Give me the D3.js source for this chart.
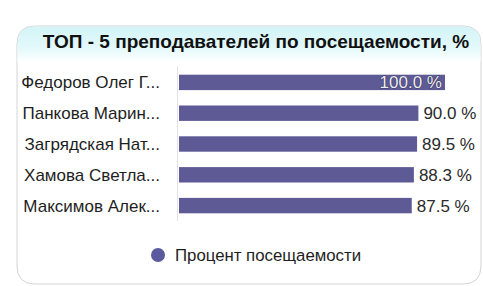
<!DOCTYPE html>
<html>
<head>
<meta charset="utf-8">
<script src="https://cdn.jsdelivr.net/npm/d3@7"></script>
<style>
  body { margin: 0; background: #fff; }
  svg { display: block; }
</style>
</head>
<body>
<script>
var w = 483;
var h = 286;

// data
var teachers = ["Федоров Олег Г...", "Панкова Марин...", "Загрядская Нат...", "Хамова Светла...", "Максимов Алек..."];
var attendance = [100.0, 90.0, 89.5, 88.3, 87.5];
var titleText = "ТОП - 5 преподавателей по посещаемости, %";
var legendText = "Процент посещаемости";

var barColor = "#5e5a96";
var font = "'Liberation Sans', Arial, sans-serif";

var svg = d3.select("body").append("svg")
  .attr("width", w)
  .attr("height", h);

var defs = svg.append("defs");
var grad = defs.append("linearGradient")
  .attr("id", "head")
  .attr("x1", 0).attr("y1", 0).attr("x2", 0).attr("y2", 1);
grad.append("stop").attr("offset", "0%").attr("stop-color", "#d3f4f7");
grad.append("stop").attr("offset", "60%").attr("stop-color", "#e3f9fa");
grad.append("stop").attr("offset", "100%").attr("stop-color", "#ffffff");

// card
var cx = 17, cy = 26, cw = 464, ch = 258, r = 18;
svg.append("path")
  .attr("d", "M" + cx + "," + (cy + r) +
    "Q" + cx + "," + cy + " " + (cx + r) + "," + cy +
    "L" + (cx + cw - r) + "," + cy +
    "Q" + (cx + cw) + "," + cy + " " + (cx + cw) + "," + (cy + r) +
    "L" + (cx + cw) + "," + (cy + ch - r) +
    "Q" + (cx + cw) + "," + (cy + ch) + " " + (cx + cw - r) + "," + (cy + ch) +
    "L" + (cx + r) + "," + (cy + ch) +
    "Q" + cx + "," + (cy + ch) + " " + cx + "," + (cy + ch - r) + "Z")
  .attr("fill", "#fff")
  .attr("stroke", "#d4d4d4")
  .attr("stroke-width", 1);

svg.append("path")
  .attr("d", "M" + (cx + 0.5) + "," + (cy + r) +
    "Q" + (cx + 0.5) + "," + (cy + 0.5) + " " + (cx + r) + "," + (cy + 0.5) +
    "L" + (cx + cw - r) + "," + (cy + 0.5) +
    "Q" + (cx + cw - 0.5) + "," + (cy + 0.5) + " " + (cx + cw - 0.5) + "," + (cy + r) +
    "L" + (cx + cw - 0.5) + "," + 62 + "L" + (cx + 0.5) + "," + 62 + "Z")
  .attr("fill", "url(#head)");

svg.append("text")
  .attr("x", 256)
  .attr("y", 48)
  .attr("text-anchor", "middle")
  .attr("font-family", font)
  .attr("font-weight", "bold")
  .attr("font-size", "19px")
  .attr("fill", "#111")
  .text(titleText);

// scales
var x = d3.scaleLinear().domain([0, 100]).range([179, 445]);
var y = d3.scaleBand().domain(teachers).range([67, 221]).paddingInner(0.5).paddingOuter(0.25);

svg.append("line")
  .attr("x1", 177.5).attr("x2", 177.5)
  .attr("y1", 66).attr("y2", 221)
  .attr("stroke", "#e2e2e8");

svg.selectAll("rect.bar")
  .data(attendance)
  .enter()
  .append("rect")
  .attr("class", "bar")
  .attr("x", x(0))
  .attr("y", function(d, i) { return y(teachers[i]); })
  .attr("width", function(d) { return x(d) - x(0); })
  .attr("height", y.bandwidth())
  .attr("fill", barColor);

svg.selectAll("text.name")
  .data(teachers)
  .enter()
  .append("text")
  .attr("class", "name")
  .attr("x", 160)
  .attr("y", function(d) { return y(d) + y.bandwidth() / 2 + 6; })
  .attr("text-anchor", "end")
  .attr("font-family", font)
  .attr("font-size", "17px")
  .attr("fill", "#1e1e1e")
  .text(function(d) { return d; });

svg.selectAll("text.val")
  .data(attendance)
  .enter()
  .append("text")
  .attr("class", "val")
  .attr("x", function(d) { return d >= 100 ? x(d) - 3 : x(d) + 5; })
  .attr("y", function(d, i) { return y(teachers[i]) + y.bandwidth() / 2 + 6; })
  .attr("text-anchor", function(d) { return d >= 100 ? "end" : "start"; })
  .attr("font-family", font)
  .attr("font-size", "17px")
  .attr("fill", function(d) { return d >= 100 ? "#ececf2" : "#2a2a2a"; })
  .attr("stroke", function(d) { return d >= 100 ? "#3c3a5e" : "none"; })
  .attr("stroke-width", 1.2)
  .attr("paint-order", "stroke")
  .text(function(d) { return d.toFixed(1) + " %"; });

// legend
svg.append("circle")
  .attr("cx", 158)
  .attr("cy", 255)
  .attr("r", 7)
  .attr("fill", "#5b5a9e");

svg.append("text")
  .attr("x", 175)
  .attr("y", 261)
  .attr("font-family", font)
  .attr("font-size", "16.8px")
  .attr("fill", "#1e1e1e")
  .text(legendText);
</script>
</body>
</html>
